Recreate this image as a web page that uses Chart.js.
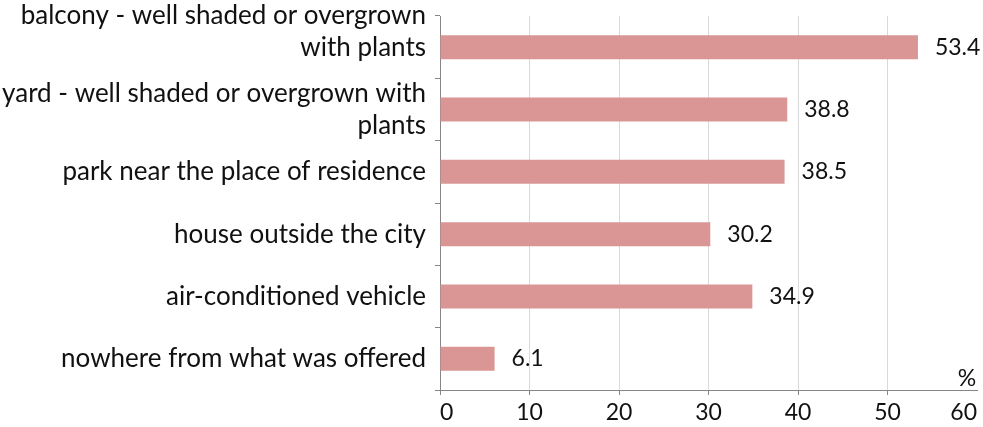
<!DOCTYPE html>
<html lang="en">
<head>
  <meta charset="utf-8">
  <title>Where respondents shelter from the heat</title>
  <style>
    html, body { margin: 0; padding: 0; background: #fff; }
    #wrap { position: relative; width: 983px; height: 427px; }
  </style>
</head>
<body>
<div id="wrap">
  <canvas id="chart"></canvas>
</div>

<script src="https://cdn.jsdelivr.net/npm/chart.js@4.4.1/dist/chart.umd.min.js"></script>
<script type="text/javascript">
// categories (multi-line labels), shares in %
var places = [
  ['balcony - well shaded or overgrown', 'with plants', ''],
  ['yard - well shaded or overgrown with', 'plants'],
  'park near the place of residence',
  'house outside the city',
  'air-conditioned vehicle',
  'nowhere from what was offered'
];
var shares = [53.4, 38.8, 38.5, 30.2, 34.9, 6.1];
var axisMin = 0, axisMax = 60, axisStep = 10;
var unitLabel = '%';

var FONT = 'Lato, "Open Sans", sans-serif';
var TEXT = '#111';
var AXIS = '#868686';
var GRID = '#d9d9d9';

// value labels at the end of each bar + the unit sign above the axis end
var barLabels = {
  id: 'barLabels',
  afterDatasetsDraw: function(chart) {
    var ctx = chart.ctx;
    var meta = chart.getDatasetMeta(0);
    ctx.save();
    ctx.font = '23px ' + FONT;
    ctx.fillStyle = TEXT;
    ctx.textAlign = 'left';
    ctx.textBaseline = 'middle';
    meta.data.forEach(function(bar, i) {
      ctx.fillText(shares[i].toFixed(1), bar.x + 17, bar.y);
    });
    var area = chart.chartArea;
    ctx.textAlign = 'center';
    ctx.fillText(unitLabel, area.right - 10, area.bottom - 11);
    ctx.restore();
  }
};

var hideLast = function(c, base) {
  return c.tick && c.tick.value === axisMax ? 'rgba(0,0,0,0)' : base;
};

new Chart(document.getElementById('chart').getContext('2d'), {
  type: 'bar',
  data: {
    labels: places,
    datasets: [{
      data: shares,
      backgroundColor: '#d99694',
      borderWidth: 0,
      barPercentage: 0.77,
      categoryPercentage: 0.5
    }]
  },
  options: {
    indexAxis: 'y',
    responsive: true,
    maintainAspectRatio: false,
    animation: false,
    layout: { padding: { left: 0, right: 6, top: 16, bottom: 0 } },
    plugins: {
      legend: { display: false },
      tooltip: { enabled: false }
    },
    scales: {
      x: {
        min: axisMin,
        max: axisMax,
        ticks: {
          stepSize: axisStep,
          align: 'inner',
          padding: 4,
          color: TEXT,
          font: { family: FONT, size: 23 }
        },
        grid: {
          color: function(c) { return hideLast(c, GRID); },
          tickColor: function(c) { return hideLast(c, AXIS); },
          tickLength: 5,
          lineWidth: 1
        },
        border: { color: AXIS },
        afterFit: function(s) {
          s.height = 37;
          s.paddingLeft = 0;
          s.paddingRight = 0;
        }
      },
      y: {
        ticks: {
          padding: 9,
          color: TEXT,
          font: { family: FONT, size: 26, lineHeight: 1.23 },
          autoSkip: false
        },
        grid: {
          drawOnChartArea: false,
          offset: true,
          tickLength: 5,
          color: AXIS
        },
        border: { color: AXIS },
        afterFit: function(s) {
          s.width = 440;
          s.paddingTop = 0;
          s.paddingBottom = 0;
        }
      }
    }
  },
  plugins: [barLabels]
});
</script>
</body>
</html>
